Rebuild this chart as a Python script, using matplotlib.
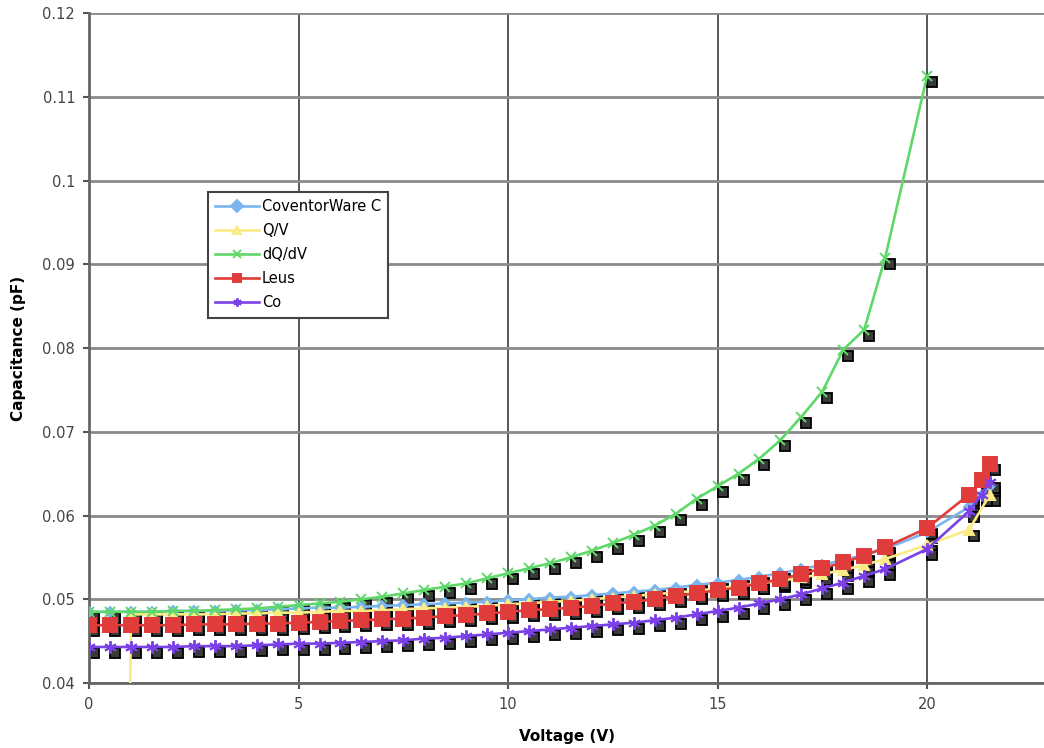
import numpy as np
import matplotlib
matplotlib.use("Agg")
import matplotlib.pyplot as plt
from matplotlib.transforms import offset_copy
from matplotlib.ticker import FuncFormatter, MultipleLocator

# voltage grid used by most series
v_main = [0, 0.5, 1, 1.5, 2, 2.5, 3, 3.5, 4, 4.5, 5, 5.5, 6, 6.5, 7, 7.5, 8, 8.5,
          9, 9.5, 10, 10.5, 11, 11.5, 12, 12.5, 13, 13.5, 14, 14.5, 15, 15.5,
          16, 16.5, 17, 17.5, 18, 18.5, 19, 20, 21, 21.3, 21.5]

coventor_c = [0.0485, 0.0485, 0.0485, 0.0485, 0.0486, 0.0486, 0.0486, 0.0487,
              0.0487, 0.0488, 0.0489, 0.0490, 0.0490, 0.0491, 0.0492, 0.0493,
              0.0494, 0.0495, 0.0496, 0.0497, 0.0499, 0.0500, 0.0502, 0.0503,
              0.0505, 0.0507, 0.0509, 0.0511, 0.0514, 0.0517, 0.0520, 0.0523,
              0.0527, 0.0531, 0.0536, 0.0541, 0.0547, 0.0553, 0.0560, 0.0580,
              0.0610, 0.0625, 0.0635]

v_qv = [0.9, 1, 1.5, 2, 2.5, 3, 3.5, 4, 4.5, 5, 5.5, 6, 6.5, 7, 7.5, 8, 8.5,
        9, 9.5, 10, 10.5, 11, 11.5, 12, 12.5, 13, 13.5, 14, 14.5, 15, 15.5,
        16, 16.5, 17, 17.5, 18, 18.5, 19, 20, 21, 21.5]
q_over_v = [0.0, 0.0482, 0.0482, 0.0482, 0.0482, 0.0482, 0.0483, 0.0483,
            0.0484, 0.0484, 0.0485, 0.0486, 0.0486, 0.0487, 0.0488, 0.0489,
            0.0490, 0.0491, 0.0492, 0.0494, 0.0495, 0.0497, 0.0498, 0.0500,
            0.0502, 0.0504, 0.0506, 0.0508, 0.0510, 0.0513, 0.0516, 0.0519,
            0.0522, 0.0526, 0.0530, 0.0535, 0.0541, 0.0548, 0.0565, 0.0583,
            0.0625]

v_dqdv = [0, 0.5, 1, 1.5, 2, 2.5, 3, 3.5, 4, 4.5, 5, 5.5, 6, 6.5, 7, 7.5, 8,
          8.5, 9, 9.5, 10, 10.5, 11, 11.5, 12, 12.5, 13, 13.5, 14, 14.5, 15,
          15.5, 16, 16.5, 17, 17.5, 18, 18.5, 19, 20]
dq_dv = [0.0485, 0.0485, 0.0485, 0.0485, 0.0486, 0.0486, 0.0487, 0.0488,
         0.0489, 0.0491, 0.0493, 0.0495, 0.0497, 0.0500, 0.0503, 0.0507,
         0.0511, 0.0515, 0.0519, 0.0525, 0.0531, 0.0537, 0.0543, 0.0550,
         0.0558, 0.0567, 0.0577, 0.0588, 0.0602, 0.0620, 0.0635, 0.0650,
         0.0668, 0.0690, 0.0718, 0.0748, 0.0798, 0.0822, 0.0908, 0.1125]

leus = [0.0469, 0.0469, 0.0469, 0.0469, 0.0469, 0.0470, 0.0470, 0.0470,
        0.0471, 0.0471, 0.0472, 0.0473, 0.0474, 0.0475, 0.0476, 0.0477,
        0.0478, 0.0480, 0.0481, 0.0483, 0.0485, 0.0487, 0.0488, 0.0490,
        0.0492, 0.0495, 0.0497, 0.0500, 0.0504, 0.0507, 0.0511, 0.0514,
        0.0519, 0.0524, 0.0530, 0.0537, 0.0544, 0.0552, 0.0562, 0.0585,
        0.0625, 0.0642, 0.0662]

co = [0.0443, 0.0443, 0.0443, 0.0443, 0.0443, 0.0444, 0.0444, 0.0444,
      0.0445, 0.0446, 0.0447, 0.0447, 0.0448, 0.0449, 0.0450, 0.0451,
      0.0453, 0.0454, 0.0456, 0.0458, 0.0460, 0.0462, 0.0464, 0.0466,
      0.0468, 0.0470, 0.0472, 0.0475, 0.0478, 0.0482, 0.0486, 0.0490,
      0.0495, 0.0500, 0.0506, 0.0513, 0.0520, 0.0528, 0.0536, 0.0560,
      0.0605, 0.0625, 0.0640]

series = [
    ("CoventorWare C", v_main, coventor_c, "#7ab6ee", "D", 5),
    ("Q/V", v_qv, q_over_v, "#fbeb86", "^", 7),
    ("dQ/dV", v_dqdv, dq_dv, "#5fd86a", "x", 7),
    ("Leus", v_main, leus, "#e03c3c", "s", 10),
    ("Co", v_main, co, "#7a42e6", (6, 2, 0), 9),
]

fig = plt.figure(figsize=(10.44, 7.48), dpi=100)
ax = fig.add_axes([0.0853, 0.0869, 1 - 0.0853, 0.9826 - 0.0869])

# drop shadows under the markers
shadow = offset_copy(ax.transData, fig=fig, x=5, y=-6, units="dots")
for name, xs, ys, color, mk, ms in series:
    ax.plot(xs, ys, linestyle="none", marker="s", markersize=7,
            markerfacecolor="#3a3a3a", markeredgecolor="black",
            markeredgewidth=1.3, transform=shadow, zorder=2)

for name, xs, ys, color, mk, ms in series:
    ax.plot(xs, ys, color=color, lw=1.9, marker=mk, markersize=ms,
            markerfacecolor=color, markeredgecolor=color, markeredgewidth=1.4,
            label=name, zorder=3)

ax.set_xlim(0, 22.79)
ax.set_ylim(0.04, 0.12)
ax.xaxis.set_major_locator(MultipleLocator(5))
ax.yaxis.set_major_locator(MultipleLocator(0.01))
ax.yaxis.set_major_formatter(FuncFormatter(lambda v, p: f"{round(v, 3):g}"))

ax.grid(axis="y", color="#8a8a8a", lw=2.0, zorder=0)
ax.grid(axis="x", color="#3a3a3a", lw=1.2, zorder=0)
ax.set_axisbelow(True)
for s in ("top", "right"):
    ax.spines[s].set_visible(False)
for s in ("left", "bottom"):
    ax.spines[s].set_color("#666666")
    ax.spines[s].set_linewidth(2.0)
ax.tick_params(length=4, width=1.5, color="#555555", labelsize=10.5,
               labelcolor="#444444", pad=6)

ax.set_xlabel("Voltage (V)", fontsize=11, fontweight="bold", labelpad=12)
ax.set_ylabel("Capacitance (pF)", fontsize=11, fontweight="bold", labelpad=12)

leg = ax.legend(loc="upper left", bbox_to_anchor=(0.1246, 0.733),
                borderaxespad=0, fancybox=False, framealpha=1,
                edgecolor="#444444", fontsize=10.5, handlelength=3.0,
                handletextpad=0.2, labelspacing=0.62, borderpad=0.5)
leg.get_frame().set_linewidth(1.5)
for h in leg.legend_handles:
    h.set_markersize(6)

fig.savefig("out.png", dpi=100)
